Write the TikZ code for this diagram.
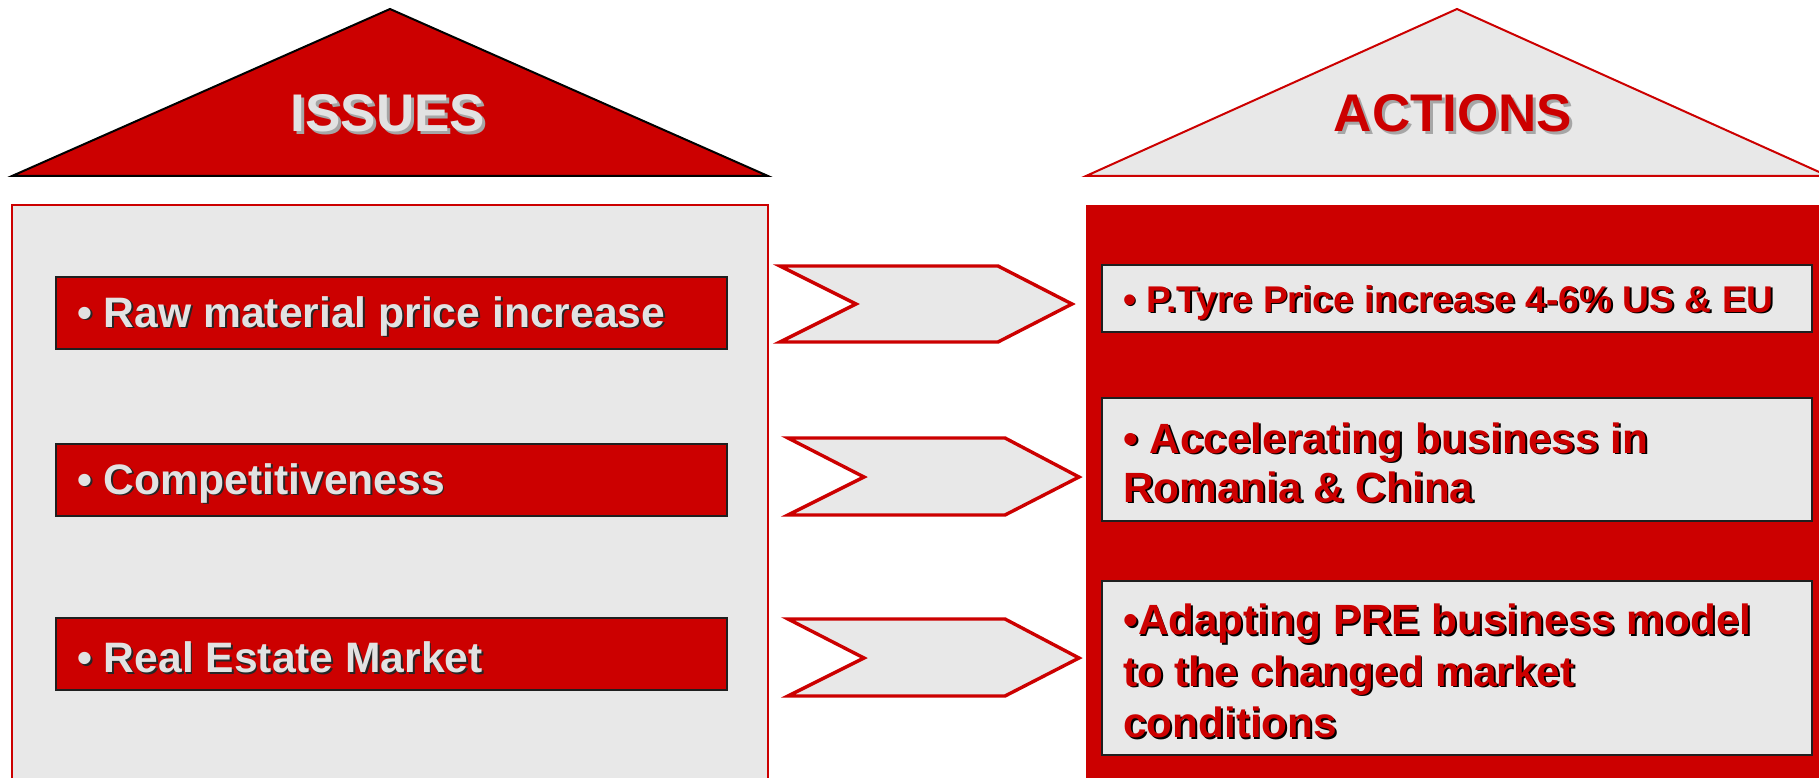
\documentclass[tikz,border=0pt]{standalone}
\usepackage{fontspec}
\setmainfont{Liberation Sans}
\definecolor{pred}{HTML}{CC0000}
\definecolor{pgray}{HTML}{E8E8E8}
\definecolor{ptext}{HTML}{E2E2E2}
\definecolor{pshade}{HTML}{A6A6A6}
\newcommand\shtxt[4][1.8pt]{\leavevmode\rlap{\hspace{#1}\raisebox{-#1}{\color{#2}#4}}{\color{#3}#4}}
\begin{document}
\begin{tikzpicture}[x=1pt,y=-1pt,
  issuebox/.style={draw=black!88, line width=1.8pt, fill=pred, minimum width=671pt, minimum height=72pt,
    inner sep=0pt, anchor=north west},
  issuetext/.style={anchor=west, inner sep=0pt, font=\fontsize{42.6}{50}\selectfont\bfseries},
  actionbox/.style={draw=black!88, line width=1.8pt, fill=pgray, minimum width=710pt,
    inner sep=0pt, anchor=north west},
  actiontext/.style={anchor=west, inner sep=0pt, align=left},
  chev/.style={draw=pred, line width=3.4pt, fill=pgray, line join=miter},
  title/.style={font=\fontsize{53}{60}\selectfont\bfseries, inner sep=0pt}
]
\useasboundingbox (0,0) rectangle (1819,778);
\clip (0,0) rectangle (1819,778);
\fill[white] (0,0) rectangle (1819,778);

% ISSUES roof and body
\draw[fill=pred, draw=black, line width=2pt, line join=miter] (12,176) -- (390,9) -- (768,176) -- cycle;
\node[title] (issues) at (388,115) {\shtxt[3pt]{pshade}{ptext}{ISSUES}};
\draw[draw=pred, fill=pgray, line width=2pt] (12,205) rectangle (768,800);

% ACTIONS roof and body
\draw[fill=pgray, draw=pred, line width=2pt, line join=miter] (1086,176) -- (1457,9) -- (1828,176) -- cycle;
\node[title] (actions) at (1453,115) {\shtxt[3pt]{pshade}{pred}{ACTIONS}};
\fill[pred] (1086,205) rectangle (1830,800);

% issue boxes
\node[issuebox] (i1) at (55,276) {};
\node[issuebox] (i2) at (55,443) {};
\node[issuebox] (i3) at (55,617) {};
\node[issuetext] (i1t) at ([xshift=22pt,yshift=-4pt]i1.west) {\shtxt{black!85}{ptext}{• Raw material price increase}};
\node[issuetext] (i2t) at ([xshift=22pt,yshift=-4pt]i2.west) {\shtxt{black!85}{ptext}{• Competitiveness}};
\node[issuetext] (i3t) at ([xshift=22pt,yshift=-4pt]i3.west) {\shtxt{black!85}{ptext}{• Real Estate Market}};

% chevrons
\draw[chev] (780,266) -- (998,266) -- (1072,304) -- (998,342) -- (780,342) -- (856,304) -- cycle;
\draw[chev] (788,438) -- (1005,438) -- (1079,477) -- (1005,515) -- (788,515) -- (864,477) -- cycle;
\draw[chev] (788,619) -- (1005,619) -- (1079,658) -- (1005,696) -- (788,696) -- (864,658) -- cycle;

% action boxes
\node[actionbox, minimum height=67pt] (a1) at (1101,264) {};
\node[actionbox, minimum height=123pt] (a2) at (1101,397) {};
\node[actionbox, minimum height=174pt] (a3) at (1101,580) {};
\node[actiontext, font=\fontsize{37.2}{44}\selectfont\bfseries] (a1t) at ([xshift=22pt,yshift=-5pt]a1.west)
  {\shtxt[1.6pt]{black}{pred}{• P.Tyre Price increase 4-6\% US \& EU}};
\node[actiontext, font=\fontsize{42.3}{49}\selectfont\bfseries] (a2t) at ([xshift=22pt,yshift=-4pt]a2.west)
  {\shtxt{black}{pred}{• Accelerating business in}\\\shtxt{black}{pred}{Romania \& China}};
\node[actiontext, font=\fontsize{42.3}{51.5}\selectfont\bfseries] (a3t) at ([xshift=22pt,yshift=-4pt]a3.west)
  {\shtxt{black}{pred}{•Adapting PRE business model}\\\shtxt{black}{pred}{to the changed market}\\\shtxt{black}{pred}{conditions}};
\end{tikzpicture}
\end{document}
